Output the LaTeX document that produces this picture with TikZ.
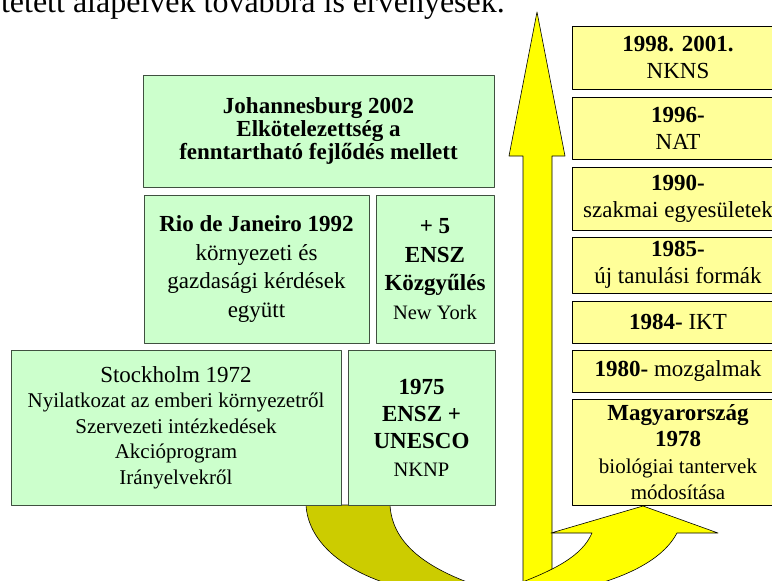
\documentclass[tikz,border=0pt]{standalone}
\usepackage{fontspec}
\setmainfont{Liberation Serif}
\definecolor{zoldfill}{HTML}{CCFFCC}
\definecolor{zoldline}{RGB}{64,80,64}
\definecolor{sargafill}{HTML}{FFFF99}
\definecolor{nyilsarga}{HTML}{FFFF00}
\definecolor{nyilolive}{HTML}{CCCC00}
\begin{document}
\begin{tikzpicture}[x=1pt,y=-1pt,line join=round,
	zold/.style={draw=zoldline,fill=zoldfill,line width=.8pt,inner sep=0pt,align=center},
	sarga/.style={draw=black,fill=sargafill,line width=.8pt,inner sep=0pt,align=center,minimum width=212,font=\fontsize{23}{27}\selectfont},
	nyil/.style={draw=black,line width=.6pt}]
	\clip (0,0) rectangle (772,581);
	\node[anchor=base east,inner sep=0pt,font=\fontsize{32}{36}\selectfont] (szoveg) at (505,12) {tetett alapelvek továbbra is érvényesek.};
	\filldraw[nyil,fill=nyilolive]
	(306,505) .. controls (308,540) and (340,570) .. (395,586) -- (478,586) .. controls (420,566) and (392,540) .. (390,505) -- cycle;
	\filldraw[nyil,fill=nyilsarga]
	(537,12) -- (565,156) -- (552,156) -- (552,590) -- (523,590) -- (523,156) -- (509,156) -- cycle;
	\filldraw[nyil,fill=nyilsarga]
	(643,506) -- (718,533) -- (677,533) .. controls (665,556) and (635,574) .. (590,586) -- (512,586) .. controls (555,570) and (582,556) .. (592,533) -- (551,533) -- cycle;
	\node[zold,minimum width=351,minimum height=112,font=\fontsize{23}{23.3}\selectfont\bfseries] (joh) at (318.5,131) {Johannesburg 2002\\Elkötelezettség a\\fenntartható fejlődés mellett};
	\node[zold,minimum width=225,minimum height=148,font=\fontsize{23}{28.5}\selectfont] (rio) at (256.5,269) {\textbf{Rio de Janeiro 1992}\\környezeti és\\gazdasági kérdések\\együtt};
	\node[zold,minimum width=118,minimum height=148,font=\fontsize{23}{28.5}\selectfont] (ensz) at (435,269) {\textbf{+ 5}\\\textbf{ENSZ}\\\textbf{Közgyűlés}\\{\fontsize{20.5}{24}\selectfont New York}};
	\node[zold,minimum width=330,minimum height=155,font=\fontsize{21}{25.5}\selectfont] (stock) at (176,427.5) {{\fontsize{23}{27}\selectfont Stockholm 1972}\\Nyilatkozat az emberi környezetről\\Szervezeti intézkedések\\Akcióprogram\\Irányelvekről};
	\node[zold,minimum width=147,minimum height=155,font=\fontsize{23}{27.3}\selectfont] (unesco) at (421.5,427.5) {\textbf{1975}\\\textbf{ENSZ +}\\\textbf{UNESCO}\\{\fontsize{20.5}{24}\selectfont NKNP}};
	\foreach \nev/\yk/\mag/\szov in {
		y1998/57.5/63/{\textbf{1998. 2001.}\\NKNS},
		y1996/128/62/{\textbf{1996-}\\NAT},
		y1990/198.5/63/{\textbf{1990-}\\szakmai egyesületek},
		y1985/265/56/{\textbf{1985-}\\új tanulási formák},
		y1984/322/42/{\textbf{1984-} IKT},
		y1980/371/42/{\textbf{1980-} mozgalmak}}
	\node[sarga,minimum height=\mag] (\nev) at (678,\yk) {\szov};
	\node[sarga,minimum height=106,font=\fontsize{23}{26.5}\selectfont] (ymagy) at (678,452) {\textbf{Magyarország}\\\textbf{1978}\\{\fontsize{21}{25}\selectfont biológiai tantervek}\\{\fontsize{21}{25}\selectfont módosítása}};
\end{tikzpicture}
\end{document}
